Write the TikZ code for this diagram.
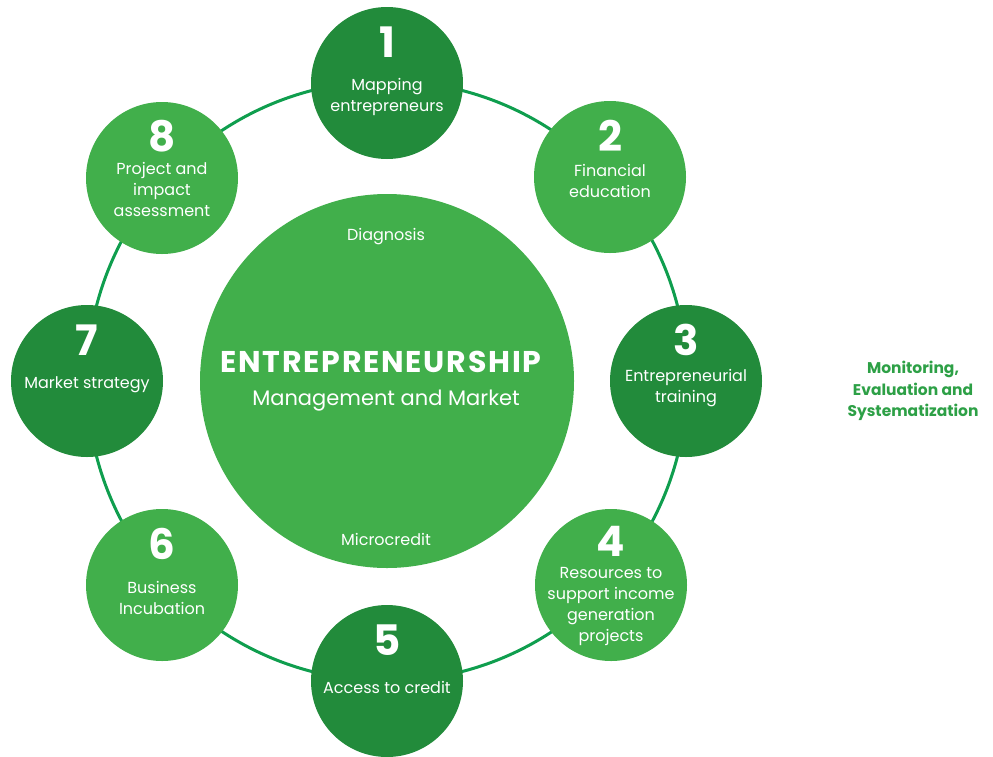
\documentclass[tikz,border=0pt]{standalone}
\usepackage{fontspec}
\setmainfont{Poppins}
\definecolor{darkleaf}{RGB}{34,139,59}
\definecolor{lightleaf}{RGB}{65,175,75}
\definecolor{ringline}{RGB}{15,158,78}
\definecolor{sidetext}{RGB}{45,160,70}
\tikzset{
  stage/.style={circle, minimum size=152pt, inner sep=0pt},
  stagenum/.style={text=white, inner sep=0pt, font=\bfseries\fontsize{42}{42}\selectfont},
  stagetext/.style={text=white, inner sep=0pt, align=center, font=\fontsize{16}{21}\selectfont},
  coretext/.style={text=white, inner sep=0pt},
}

\begin{document}
\begin{tikzpicture}[x=1pt,y=-1pt]
  \useasboundingbox (0,0) rectangle (993,756);
  \begin{scope}
    \clip (0,0) rectangle (993,756);
    % ring through the eight stages
    \draw[ringline, line width=3pt] (387,381) circle[radius=300pt];
    \foreach \n/\x/\y/\col/\ny/\dy/\txt in {
        1/387/83/darkleaf/41/14/{Mapping\\entrepreneurs},
        2/610/177/lightleaf/41/4/{Financial\\education},
        3/686/381/darkleaf/41/7/{Entrepreneurial\\training},
        4/611/585/lightleaf/44/21/{Resources to\\support income\\generation\\projects},
        5/387/681/darkleaf/41/6/{Access to credit},
        6/162/585/lightleaf/41/13/{Business\\Incubation},
        7/87/381/darkleaf/41/4/{Market strategy},
        8/162/178/lightleaf/42/11/{Project and\\impact\\assessment}}{
      \node[stage, fill=\col] (s\n) at (\x,\y) {};
      \node[stagenum] (n\n) at (\x,\y-\ny) {\n};
      \node[stagetext] (t\n) at (\x,\y+\dy) {\txt};
    }
    % centre
    \node[circle, fill=lightleaf, minimum size=374pt, inner sep=0pt] (core) at (387,381) {};
    \node[coretext, font=\fontsize{16}{16}\selectfont] (diag) at (386,237) {Diagnosis};
    \node[coretext, font=\bfseries\fontsize{30}{30}\selectfont\addfontfeatures{LetterSpace=6}] (title) at (381,362) {ENTREPRENEURSHIP};
    \node[coretext, font=\fontsize{21}{21}\selectfont] (sub) at (386,401) {Management and Market};
    \node[coretext, font=\fontsize{16}{16}\selectfont] (micro) at (386,539) {Microcredit};
  \end{scope}
  \node[text=sidetext, inner sep=0pt, align=center, font=\bfseries\fontsize{15.5}{21.5}\selectfont] (monitor) at (913,391) {Monitoring,\\Evaluation and\\Systematization};
\end{tikzpicture}
\end{document}
